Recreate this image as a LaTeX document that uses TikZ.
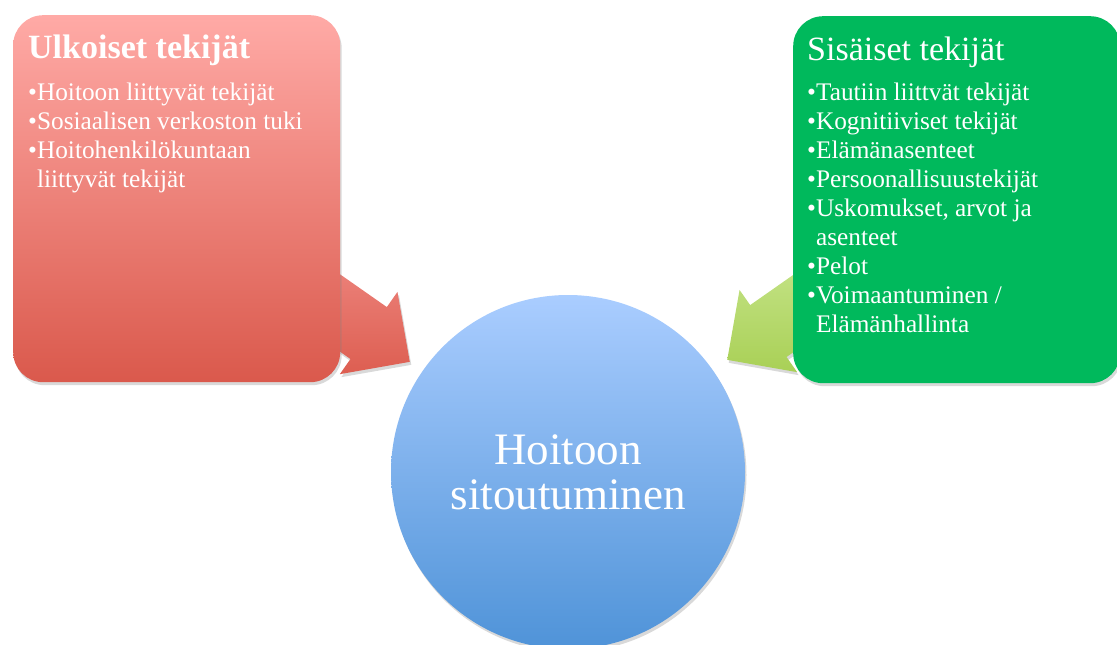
\documentclass[tikz,border=0pt]{standalone}
\usepackage{fontspec}
\setmainfont{Liberation Serif}
\usetikzlibrary{shapes.arrows,shadows}

\definecolor{outertop}{HTML}{FFAAA6}
\definecolor{outerbot}{HTML}{DA594C}
\definecolor{innergreen}{HTML}{00B95C}
\definecolor{outarrowtop}{HTML}{EE8780}
\definecolor{outarrowbot}{HTML}{DD5E51}
\definecolor{inarrowtop}{HTML}{C7E58C}
\definecolor{inarrowbot}{HTML}{A9D056}
\definecolor{goaltop}{HTML}{AACDFF}
\definecolor{goalbot}{HTML}{4F93D8}

\tikzset{
  softshadow/.style={drop shadow={opacity=0.3, shadow xshift=1.5pt, shadow yshift=-3pt}},
  factorbox/.style={rounded corners=30pt, minimum width=327pt, minimum height=367pt,
    anchor=north west, inner sep=0pt, softshadow},
  factortitle/.style={anchor=north west, inner sep=0pt, text=white, font=\fontsize{34}{40}\selectfont},
  factorlist/.style={anchor=north west, align=left, inner sep=0pt, text=white,
    font=\fontsize{25.3}{29}\selectfont},
  blockarrow/.style={single arrow, single arrow head extend=18.5pt, inner xsep=0pt,
    inner ysep=31.5pt, minimum height=150pt, anchor=tip, softshadow},
}

\begin{document}
\begin{tikzpicture}[x=1pt, y=-1pt]
  \useasboundingbox (0,0) rectangle (1117,645);

  % === Block arrows (drawn first, they sit behind the boxes) ===
  \node[blockarrow, top color=outarrowtop, bottom color=outarrowbot, rotate=-35] (outarrow) at (410,362) {};
  \node[blockarrow, top color=inarrowtop, bottom color=inarrowbot, rotate=-145] (inarrow) at (727,360) {};

  % === Outer factors ===
  \node[factorbox, top color=outertop, bottom color=outerbot] (outer) at (13,15) {};
  \node[factortitle, font=\fontsize{34}{40}\selectfont\bfseries] (outertitle) at (28,35) {Ulkoiset tekijät};
  \node[factorlist] (outerlist) at (28,83) {%
    •Hoitoon liittyvät tekijät\\
    •Sosiaalisen verkoston tuki\\
    •Hoitohenkilökuntaan\\
    \phantom{•}liittyvät tekijät};

  % === Inner factors ===
  \node[factorbox, fill=innergreen] (inner) at (793,16) {};
  \node[factortitle] (innertitle) at (807,37) {Sisäiset tekijät};
  \node[factorlist] (innerlist) at (807,83) {%
    •Tautiin liittvät tekijät\\
    •Kognitiiviset tekijät\\
    •Elämänasenteet\\
    •Persoonallisuustekijät\\
    •Uskomukset, arvot ja\\
    \phantom{•}asenteet\\
    •Pelot\\
    •Voimaantuminen /\\
    \phantom{•}Elämänhallinta};

  % === Commitment circle ===
  \node[circle, minimum size=354pt, inner sep=0pt, top color=goaltop, bottom color=goalbot,
    softshadow, text=white, align=center, font=\fontsize{45}{45}\selectfont] (goal) at (568,472)
    {Hoitoon\\sitoutuminen};

\end{tikzpicture}
\end{document}
